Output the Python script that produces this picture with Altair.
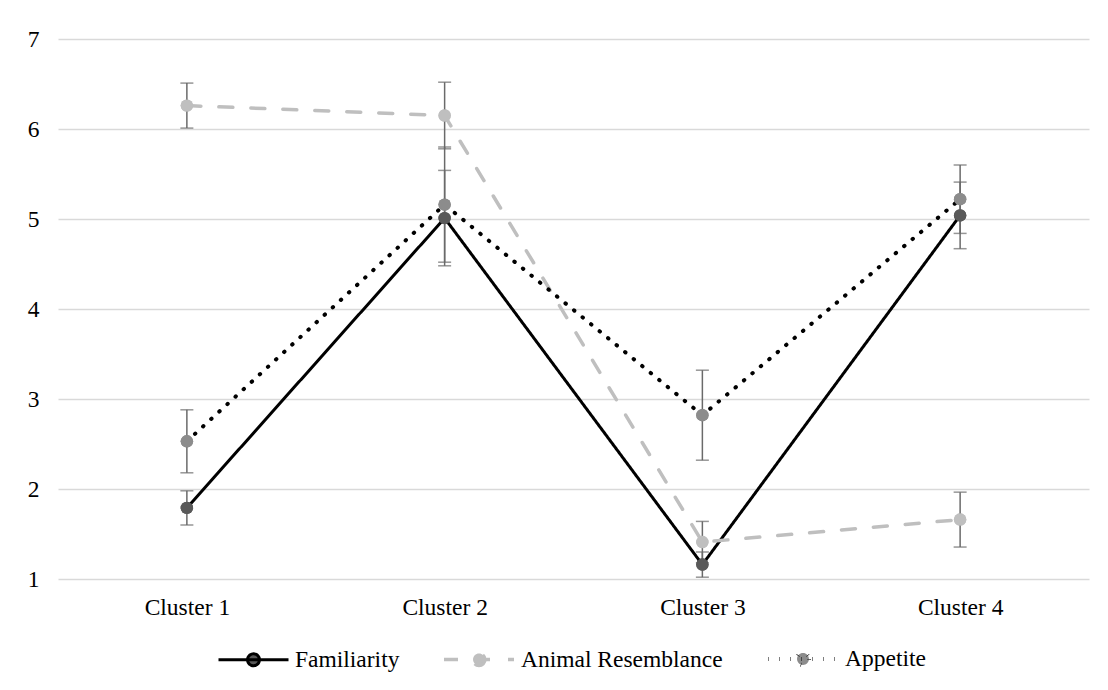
import altair as alt
import pandas as pd

clusters = ["Cluster 1", "Cluster 2", "Cluster 3", "Cluster 4"]
series = ["Familiarity", "Animal Resemblance", "Appetite"]

familiarity = [1.79, 5.01, 1.16, 5.04]
familiarity_err = [0.19, 0.53, 0.14, 0.37]
animal = [6.26, 6.15, 1.41, 1.66]
animal_err = [0.25, 0.37, 0.23, 0.305]
appetite = [2.53, 5.16, 2.82, 5.22]
appetite_err = [0.35, 0.64, 0.50, 0.38]

rows = []
for name, vals, errs in [("Familiarity", familiarity, familiarity_err),
                         ("Animal Resemblance", animal, animal_err),
                         ("Appetite", appetite, appetite_err)]:
    for c, v, e in zip(clusters, vals, errs):
        rows.append({"cluster": c, "series": name, "value": v,
                     "lo": v - e, "hi": v + e})
df = pd.DataFrame(rows)

FONT = "Liberation Serif"
FS = 23.5
line_colors = ["#000000", "#BFBFBF", "#000000"]
fill_colors = ["#595959", "#BFBFBF", "#8C8C8C"]
dashes = [[1, 0], [14, 18], [0.5, 10.5]]
widths = [3, 4, 4]

sym_path = ("M-1,0H1M0.17,0A0.17,0.17,0,1,1,-0.17,0"
            "A0.17,0.17,0,1,1,0.17,0Z")

legend = alt.Legend(
    title=None, orient="none", direction="horizontal",
    legendX=159, legendY=583, symbolType=sym_path, symbolSize=4900,
    symbolStrokeWidth=3, labelFont=FONT, labelFontSize=FS, labelLimit=0,
    labelColor="#000000", labelOffset=5, columnPadding=37, padding=0,
)

x = alt.X("cluster:N", sort=clusters, title=None,
          scale=alt.Scale(type="point", padding=0.5),
          axis=alt.Axis(labelAngle=0, ticks=False, domain=False, grid=False,
                        labelFont=FONT, labelFontSize=FS, labelColor="#000000",
                        labelPadding=16, labelLimit=0))
y = alt.Y("value:Q", title=None,
          scale=alt.Scale(domain=[1, 7], nice=False, zero=False),
          axis=alt.Axis(values=[1, 2, 3, 4, 5, 6, 7], format="d", ticks=False,
                        domain=False, gridColor="#D9D9D9", gridWidth=1.3,
                        labelFont=FONT, labelFontSize=FS, labelColor="#000000",
                        labelPadding=19))

base = alt.Chart(df)

pts_legend = base.mark_point(filled=True, size=155, opacity=1).encode(
    x=x, y=y,
    fill=alt.Fill("series:N", scale=alt.Scale(domain=series, range=fill_colors),
                  legend=legend),
)

lines = base.mark_line(strokeCap="round").encode(
    x=x, y=y,
    color=alt.Color("series:N", scale=alt.Scale(domain=series, range=line_colors),
                    legend=legend),
    strokeDash=alt.StrokeDash("series:N",
                              scale=alt.Scale(domain=series, range=dashes),
                              legend=legend),
    strokeWidth=alt.StrokeWidth("series:N",
                                scale=alt.Scale(domain=series, range=widths),
                                legend=legend),
    detail="series:N",
)

err = base.mark_rule(color="#6A6A6A", strokeWidth=1.5).encode(
    x=x, y=alt.Y("lo:Q"), y2="hi:Q")
cap_lo = base.mark_tick(color="#6A6A6A", size=13, thickness=1.5,
                        orient="horizontal").encode(x=x, y=alt.Y("lo:Q"))
cap_hi = base.mark_tick(color="#6A6A6A", size=13, thickness=1.5,
                        orient="horizontal").encode(x=x, y=alt.Y("hi:Q"))

pts = base.mark_point(filled=True, size=155, opacity=1).encode(
    x=x, y=y,
    fill=alt.Fill("series:N", scale=alt.Scale(domain=series, range=fill_colors),
                  legend=None),
)

chart = alt.layer(pts_legend, lines, err, cap_lo, cap_hi, pts).properties(
    width=1031, height=540,
    autosize=alt.AutoSizeParams(type="none"),
    padding={"left": 50, "top": 31, "right": 10, "bottom": 100},
).configure_view(stroke=None)

chart.save("out.html", embed_options={"renderer": "svg", "actions": False})
